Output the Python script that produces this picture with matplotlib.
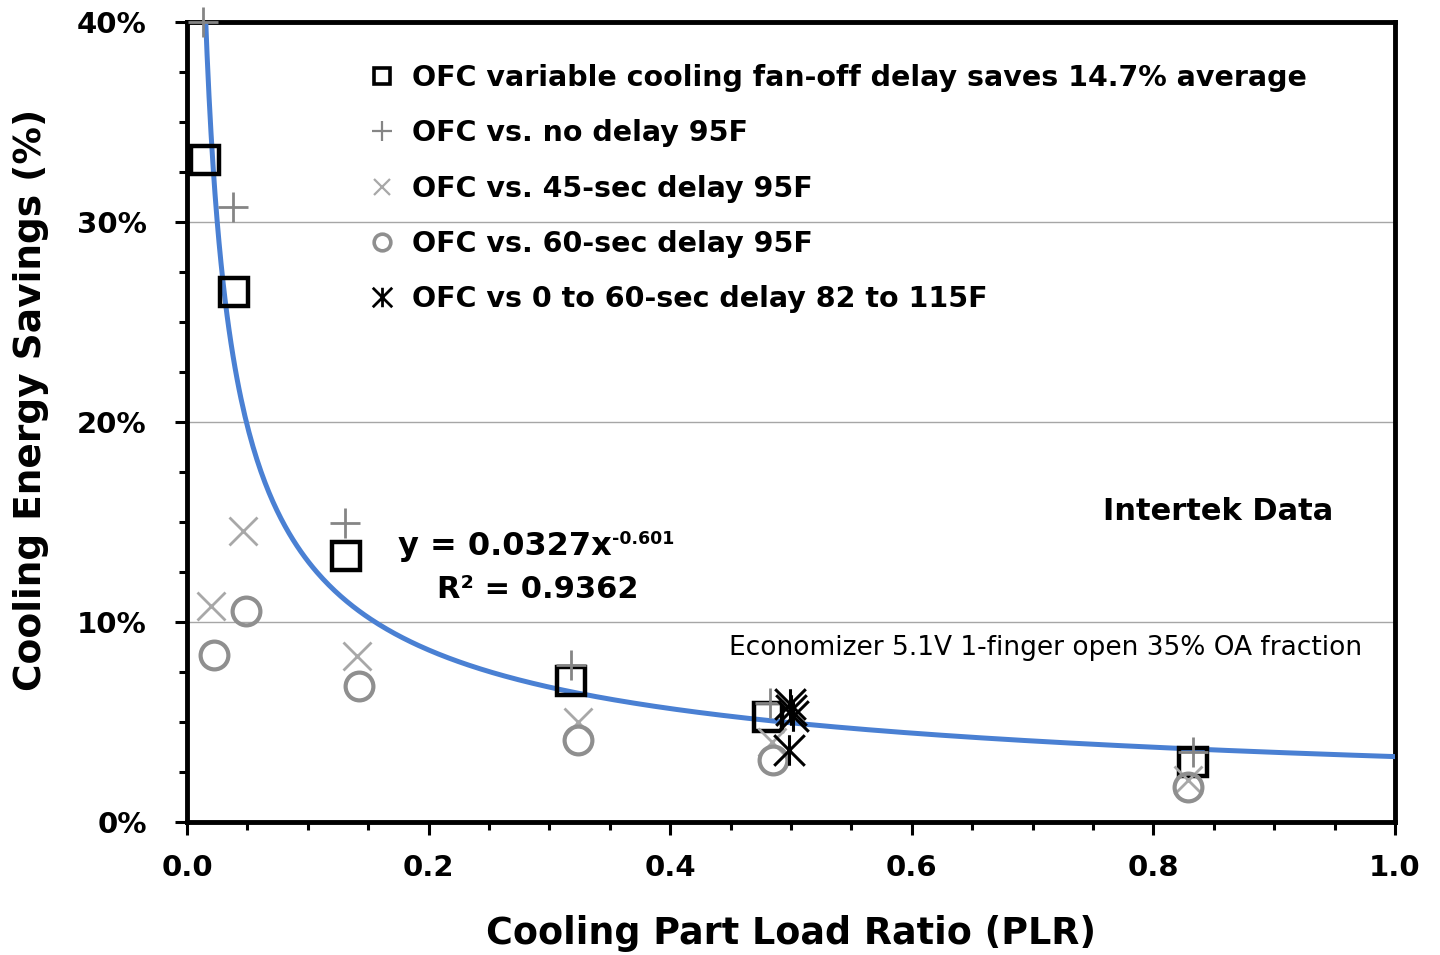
import numpy as np
import matplotlib
matplotlib.use("Agg")
import matplotlib.pyplot as plt
from matplotlib.path import Path
from matplotlib.lines import Line2D

plt.rcParams['font.family'] = ['DejaVu Sans']

# ---- data ----
sq_x = [0.015, 0.039, 0.132, 0.318, 0.481, 0.833]
sq_y = [33.1, 26.5, 13.3, 7.05, 5.25, 3.0]

plus_x = [0.013, 0.038, 0.131, 0.318, 0.483, 0.833]
plus_y = [40.0, 30.75, 14.95, 7.85, 5.95, 3.5]

x45_x = [0.020, 0.046, 0.141, 0.324, 0.484, 0.829]
x45_y = [10.8, 14.55, 8.3, 5.0, 4.0, 2.1]

c60_x = [0.022, 0.049, 0.142, 0.324, 0.485, 0.829]
c60_y = [8.35, 10.55, 6.8, 4.1, 3.1, 1.75]

ast_x = [0.499, 0.500, 0.502, 0.498]
ast_y = [5.9, 5.6, 5.3, 3.6]

fit_a = 0.0327
fit_b = -0.601

labels = ["OFC variable cooling fan-off delay saves 14.7% average",
          "OFC vs. no delay 95F",
          "OFC vs. 45-sec delay 95F",
          "OFC vs. 60-sec delay 95F",
          "OFC vs 0 to 60-sec delay 82 to 115F"]

xticks = [0.0, 0.2, 0.4, 0.6, 0.8, 1.0]
yticks = [0, 10, 20, 30, 40]

# asterisk marker: vertical line + X
ast_path = Path([(0, -0.5), (0, 0.5), (-0.5, -0.5), (0.5, 0.5), (-0.5, 0.5), (0.5, -0.5)],
                [Path.MOVETO, Path.LINETO, Path.MOVETO, Path.LINETO, Path.MOVETO, Path.LINETO])

fig = plt.figure(figsize=(14.4, 9.55), dpi=100)
ax = fig.add_axes([187/1440, 1-822/955, (1395-187)/1440, 800/955])

ax.set_xlim(0, 1.0)
ax.set_ylim(0, 40)

for g in [10, 20, 30]:
    ax.axhline(g, color='#a6a6a6', lw=1.0, zorder=0)

xs = np.linspace(0.01, 1.0, 600)
ax.plot(xs, fit_a * xs ** fit_b * 100, color='#4a80d3', lw=3.6, zorder=3)

ax.plot(sq_x, sq_y, ls='none', marker='s', ms=20, mfc='none', mec='black', mew=3.2, zorder=4, clip_on=False)
ax.plot(plus_x, plus_y, ls='none', marker='+', ms=22, mec='#858585', mew=2.0, zorder=5, clip_on=False)
ax.plot(x45_x, x45_y, ls='none', marker='x', ms=20, mec='#a8a8a8', mew=2.0, zorder=4, clip_on=False)
ax.plot(c60_x, c60_y, ls='none', marker='o', ms=20, mfc='none', mec='#8f8f8f', mew=3.0, zorder=4, clip_on=False)
ax.plot(ast_x, ast_y, ls='none', marker=ast_path, ms=22, mec='black', mew=2.2, zorder=5, clip_on=False)

for s in ax.spines.values():
    s.set_linewidth(3.5)
    s.set_color('black')

ax.set_xticks(xticks)
ax.set_xticklabels([f"{v:.1f}" for v in xticks])
ax.set_yticks(yticks)
ax.set_yticklabels([f"{v}%" for v in yticks])
ax.set_xticks(np.arange(0, 1.001, 0.05), minor=True)
ax.set_yticks(np.arange(0, 40.01, 2.5), minor=True)
ax.tick_params(which='major', direction='out', length=9, width=2.2, labelsize=21, pad=14)
ax.tick_params(which='minor', direction='out', length=5.5, width=2.2)
ax.tick_params(axis='y', which='major', pad=20)
for t in ax.get_xticklabels() + ax.get_yticklabels():
    t.set_fontweight('bold')

ax.set_xlabel("Cooling Part Load Ratio (PLR)", fontsize=26.3, fontweight='bold', labelpad=24)
ax.set_ylabel("Cooling Energy Savings (%)", fontsize=27, fontweight='bold', labelpad=20)
ax.yaxis.label.set_y((822 - 400) / 800)

handles = [
    Line2D([], [], ls='none', marker='s', ms=11, mfc='none', mec='black', mew=2.6),
    Line2D([], [], ls='none', marker='+', ms=14, mec='#858585', mew=1.6),
    Line2D([], [], ls='none', marker='x', ms=12, mec='#a8a8a8', mew=1.6),
    Line2D([], [], ls='none', marker='o', ms=12, mfc='none', mec='#8f8f8f', mew=2.6),
    Line2D([], [], ls='none', marker=ast_path, ms=14, mec='black', mew=2.0),
]
leg = ax.legend(handles, labels, loc='upper left', bbox_to_anchor=((368-187)/1208, (822-64)/800),
                frameon=False, fontsize=20.5, labelspacing=0.96, handlelength=1.0,
                handletextpad=0.55, borderpad=0, borderaxespad=0)
for t in leg.get_texts():
    t.set_fontweight('bold')

fig_h = 955
def fig_text(px, py, s, **kw):
    fig.text(px / 1440, 1 - py / fig_h, s, **kw)

fig_text(398, 546, "y = 0.0327x", fontsize=23, fontweight='bold', va='center', ha='left')
fig_text(612, 539, "-0.601", fontsize=12.5, fontweight='bold', va='center', ha='left')
fig_text(437, 589, "R² = 0.9362", fontsize=22, fontweight='bold', va='center', ha='left')
fig_text(1333, 511, "Intertek Data", fontsize=22, fontweight='bold', va='center', ha='right')
fig_text(1362, 648, "Economizer 5.1V 1-finger open 35% OA fraction", fontsize=19, va='center', ha='right')

fig.savefig("out.png", dpi=100)
